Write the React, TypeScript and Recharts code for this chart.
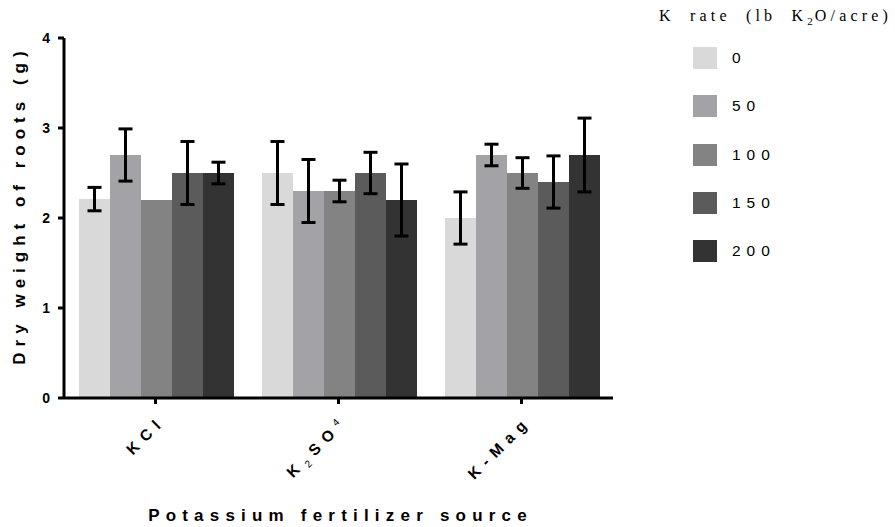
import { BarChart, Bar, XAxis, YAxis, ErrorBar, Label } from 'recharts'

// fertilizer sources on the x axis
const sources = ['KCl', 'K2SO4', 'K-Mag']

// K rates (lb K2O/acre) and their fills
const rates = ['0', '50', '100', '150', '200']
const rateColors = ['#d9d9d9', '#a3a3a7', '#838383', '#5b5b5b', '#333333']

// mean dry weight of roots (g) per rate, ordered like sources
const mean0 = [2.21, 2.5, 2.0]
const mean50 = [2.7, 2.3, 2.7]
const mean100 = [2.2, 2.3, 2.5]
const mean150 = [2.5, 2.5, 2.4]
const mean200 = [2.5, 2.2, 2.7]

// error bar half-lengths (null = no bar drawn)
const err0 = [0.13, 0.35, 0.29]
const err50 = [0.29, 0.35, 0.12]
const err100 = [null, 0.12, 0.17]
const err150 = [0.35, 0.23, 0.29]
const err200 = [0.12, 0.4, 0.41]

const yTicks = [0, 1, 2, 3, 4]

const means = [mean0, mean50, mean100, mean150, mean200]
const errs = [err0, err50, err100, err150, err200]

const data = sources.map((source, i) => {
  const row: Record<string, string | number | null> = { source }
  rates.forEach((_, r) => {
    row['m' + r] = means[r][i]
    row['e' + r] = errs[r][i]
  })
  return row
})

const sans = "'Liberation Sans', Arial, sans-serif"
const serif = "'Liberation Serif', 'Times New Roman', serif"

function SourceTick({ x, y, payload }: any) {
  const v = payload.value as string
  const style = { fontFamily: sans, fontWeight: 700, fontSize: 15.5, letterSpacing: 7, fill: '#000' }
  let content: any = v
  if (v === 'K2SO4') {
    content = (
      <>
        <tspan>K</tspan>
        <tspan fontSize={10} fontWeight={400} dy={4}>2</tspan>
        <tspan dy={-4}>SO</tspan>
        <tspan fontSize={10} fontWeight={400} dy={-6}>4</tspan>
      </>
    )
  }
  return (
    <g transform={`translate(${x + 11},${y + 16})`}>
      <text transform="rotate(-45)" textAnchor="end" style={style}>
        {content}
      </text>
    </g>
  )
}

function YTitle({ viewBox }: any) {
  const { x, y, height } = viewBox
  return (
    <text
      transform={`translate(${x + 25},${y + height / 2 - 13}) rotate(-90)`}
      textAnchor="middle"
      style={{ fontFamily: sans, fontWeight: 700, fontSize: 17, letterSpacing: 6, fill: '#000' }}
    >
      Dry weight of roots (g)
    </text>
  )
}

function XTitle({ viewBox }: any) {
  const { x, y, width } = viewBox
  return (
    <text
      x={x + width / 2 + 2}
      y={y + 123}
      textAnchor="middle"
      style={{ fontFamily: sans, fontWeight: 700, fontSize: 17, letterSpacing: 6.2, fill: '#000' }}
    >
      Potassium fertilizer source
    </text>
  )
}

function RateLegend() {
  return (
    <div style={{ position: 'absolute', left: 0, top: 0, width: 895, height: 527, overflow: 'hidden', pointerEvents: 'none' }}>
      <div
        style={{
          position: 'absolute',
          left: 659,
          top: 6,
          whiteSpace: 'nowrap',
          fontFamily: serif,
          fontSize: 16,
          letterSpacing: 4.2,
          wordSpacing: 7,
          lineHeight: '20px',
        }}
      >
        K rate (lb K<sub style={{ fontSize: 11, verticalAlign: -4, letterSpacing: 2 }}>2</sub>O/acre)
      </div>
      {rates.map((r, i) => (
        <div key={r} style={{ position: 'absolute', left: 693, top: 47 + i * 48.3, display: 'flex', alignItems: 'center' }}>
          <div style={{ width: 24, height: 22, background: rateColors[i] }} />
          <span style={{ marginLeft: 15, fontFamily: sans, fontSize: 15.5, letterSpacing: 6, color: '#000' }}>{r}</span>
        </div>
      ))}
    </div>
  )
}

export default function App() {
  return (
    <div style={{ position: 'absolute', left: 0, top: 0, width: 895, height: 527, background: '#fff' }}>
      <BarChart
        width={895}
        height={527}
        data={data}
        margin={{ top: 38, right: 282, left: 0, bottom: 0 }}
        barCategoryGap={15}
        barGap={0}
      >
        <XAxis
          dataKey="source"
          height={129}
          interval={0}
          tick={<SourceTick />}
          tickSize={6}
          axisLine={{ stroke: '#000', strokeWidth: 3 }}
          tickLine={{ stroke: '#000', strokeWidth: 3 }}
        >
          <Label content={<XTitle />} />
        </XAxis>
        <YAxis
          width={64}
          domain={[0, 4]}
          ticks={yTicks}
          tickSize={6}
          tickMargin={8}
          axisLine={{ stroke: '#000', strokeWidth: 3 }}
          tickLine={{ stroke: '#000', strokeWidth: 3 }}
          tick={{ fill: '#000', fontSize: 14, fontWeight: 700, fontFamily: sans }}
        >
          <Label content={<YTitle />} />
        </YAxis>
        {rates.map((r, i) => (
          <Bar key={r} dataKey={'m' + i} name={r} fill={rateColors[i]} isAnimationActive={false}>
            <ErrorBar dataKey={'e' + i} direction="y" width={7} stroke="#000" strokeWidth={3} />
          </Bar>
        ))}
      </BarChart>
      <RateLegend />
    </div>
  )
}
